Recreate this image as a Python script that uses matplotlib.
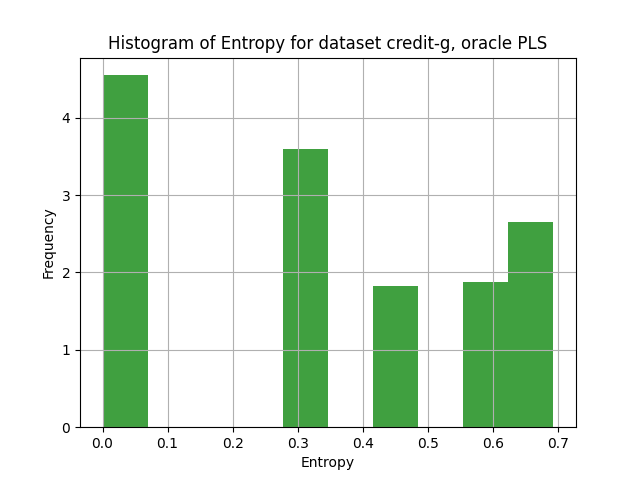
import numpy as np
import matplotlib
matplotlib.use("Agg")
import matplotlib.pyplot as plt

# density heights of 10 equal bins spanning [0, ln 2]
bin_lo = 0.0
bin_hi = 0.6931
heights = [4.55, 0.0, 0.0, 0.0, 3.60, 0.0, 1.83, 0.0, 1.88, 2.65]

edges = np.linspace(bin_lo, bin_hi, len(heights) + 1)

fig, ax = plt.subplots(figsize=(6.4, 4.8), dpi=100)
ax.hist(edges[:-1], bins=edges, weights=heights, facecolor="g", alpha=0.75)
ax.set_xlabel("Entropy")
ax.set_ylabel("Frequency")
ax.set_title("Histogram of Entropy for dataset credit-g, oracle PLS")
ax.grid(True)
fig.savefig("out.png")
